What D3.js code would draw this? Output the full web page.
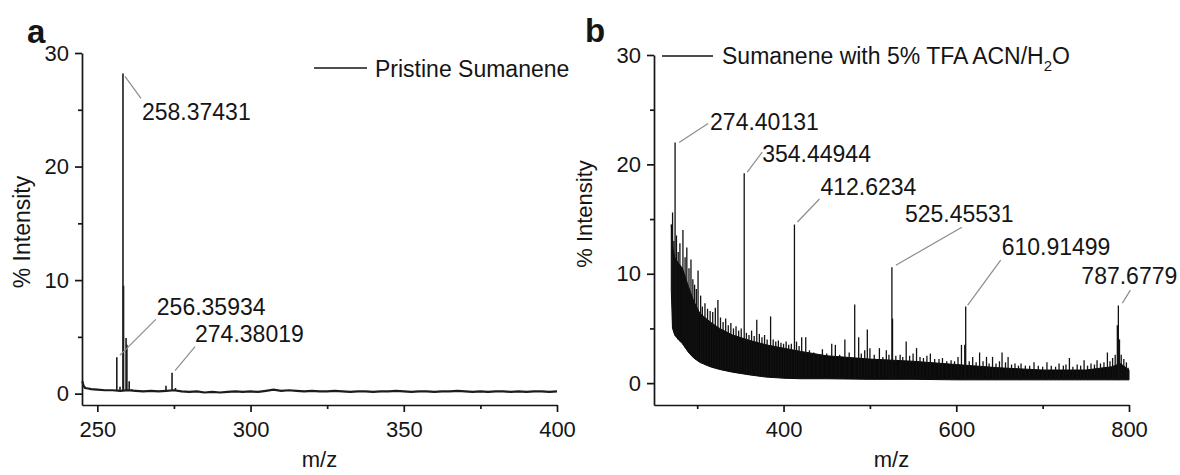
<!DOCTYPE html>
<html><head><meta charset="utf-8">
<script src="https://cdn.jsdelivr.net/npm/d3@7"></script>
<style>
body{margin:0;background:#fff;}
svg text{font-family:"Liberation Sans",Arial,Helvetica,sans-serif;fill:#151515;}
</style></head><body>
<svg id="c" width="1180" height="475"></svg>
<script>
// ---------- Panel a : Pristine Sumanene ----------
const aXTicks = [250, 300, 350, 400];
const aXMinor = [275, 325, 375];
const aYTicks = [0, 10, 20, 30];
const aYMinor = [5, 15, 25];
const aBaseMz = [245.1,245.5,246,247,248,
  250,252.5,255,257.5,260,262.5,265,267.5,270,272.5,
  275,277.5,280,282.5,285,287.5,290,292.5,295,297.5,
  300,302.5,305,307.5,310,312.5,315,317.5,320,322.5,
  325,327.5,330,332.5,335,337.5,340,342.5,345,347.5,
  350,352.5,355,357.5,360,362.5,365,367.5,370,372.5,
  375,377.5,380,382.5,385,387.5,390,392.5,395,397.5,400];
const aBaseInt = [1.1,0.7,0.5,0.45,0.4,
  0.35,0.3,0.3,0.25,0.3,0.25,0.2,0.25,0.2,0.25,
  0.3,0.2,0.15,0.2,0.1,0.15,0.1,0.15,0.2,0.15,
  0.2,0.15,0.25,0.35,0.25,0.3,0.25,0.2,0.25,0.2,
  0.2,0.25,0.2,0.15,0.2,0.2,0.15,0.2,0.2,0.25,
  0.2,0.15,0.2,0.2,0.15,0.2,0.2,0.25,0.2,0.15,
  0.2,0.15,0.2,0.2,0.15,0.2,0.15,0.2,0.2,0.15,0.2];
const aPeakMz  = [256.36, 257.4, 258.37, 258.55, 259.38, 259.65, 260.4, 261.2, 272.4, 274.38, 275.5];
const aPeakInt = [3.2,    0.6,   28.2,   9.5,    4.9,    4.3,    1.1,   0.4,   0.7,   1.85,   0.5];
const aLabels   = ["258.37431", "256.35934", "274.38019"];
const aLabelMz  = [258.37, 256.36, 274.38];
const aLabelInt = [28.2, 3.2, 1.85];
const aLegend = "Pristine Sumanene";

// ---------- Panel b : Sumanene with 5% TFA ----------
const bXTicks = [400, 600, 800];
const bXMinor = [300, 500, 700];
const bYTicks = [0, 10, 20, 30];
const bYMinor = [5, 15, 25];
const bBandMz   = [270,271.5,274,278,283,290,296,303,315,326,341,361,380,400,420,450,500,550,600,650,700,750,780,790,800];
const bBandLow  = [8.5,5.0,4.4,4.0,3.6,2.8,2.3,1.9,1.5,1.25,1.0,0.75,0.55,0.45,0.4,0.4,0.35,0.35,0.3,0.3,0.3,0.3,0.3,0.3,0.3];
const bBandHigh = [14.5,12.5,11.5,11.0,10.5,8.8,7.5,6.4,5.6,5.0,4.4,3.9,3.5,3.2,2.9,2.5,2.2,2.0,1.7,1.4,1.2,1.2,1.5,1.8,1.2];
const bSpikeMz = [
  271.5,273,274.4,276,278,280,283.5,286,288,290.5,
  292.8,295,297,299,301,304,306,309,312,315,
  318,321,324,327,330,333,336,339,342,345,
  348,351,354.45,357,360,363,366,369,372,375,
  378,381,385,388,391,394,397,400,403,406,
  409,412.62,415,418,421,425.7,430,435,440,445,
  450,455.8,460,465,471,476,482.4,487,490,494,
  497,500,505,511,515,519,522,525.46,526.2,530,
  535,538,542,546,550,554,558,562,566,570,
  575,580,584,589,594,598,602,606,609.8,610.91,
  615,619,623,627,631,635,638,642,646,650,
  653,657,660,664,668,672,675,680,685,690,
  695,700,705,710,715,719,724,727,731,735,
  740,744,748,752,756,760,763,767,771,775,
  778,781,784,786.5,787.68,789,791,794,797,799];
const bSpikeInt = [
  15.6,13.0,22.0,13.5,12.0,12.8,14.0,11.5,12.4,10.5,
  11.3,9.5,9.0,8.6,10.3,8.0,7.0,7.3,6.8,6.6,
  6.5,6.9,7.6,6.0,5.6,5.9,5.3,5.5,5.0,5.2,
  4.8,5.0,19.2,4.6,4.4,4.8,4.3,5.8,4.5,4.2,
  4.4,4.0,6.1,4.0,3.8,3.9,3.7,3.6,3.8,3.5,
  3.6,14.5,3.8,3.4,4.2,4.2,3.0,2.8,2.6,3.1,
  2.7,3.6,3.5,2.6,4.0,2.8,7.2,4.2,2.7,3.0,
  4.9,3.2,2.6,3.2,2.4,3.0,2.6,10.6,5.9,2.5,
  2.6,2.4,3.8,2.5,2.7,3.2,2.4,2.3,2.5,2.7,
  2.2,2.2,2.3,2.0,2.1,2.0,2.4,3.5,3.5,7.0,
  2.0,2.4,1.9,2.8,2.0,2.4,1.8,2.4,1.8,2.0,
  2.8,1.9,2.4,1.7,1.8,1.6,1.8,1.6,1.6,1.9,
  1.6,1.5,1.9,1.6,1.5,1.8,1.6,1.7,2.3,1.5,
  1.7,1.6,2.1,1.6,1.8,1.7,2.1,1.8,1.9,2.8,
  2.0,2.3,2.6,5.3,7.1,4.0,2.6,2.2,1.9,1.4];
const bLabels   = ["274.40131", "354.44944", "412.6234", "525.45531", "610.91499", "787.6779"];
const bLabelMz  = [274.4, 354.45, 412.62, 525.46, 610.91, 787.68];
const bLabelInt = [22.0, 19.2, 14.5, 10.6, 7.0, 7.1];

// ---------- layout ----------
const svg = d3.select("#c");
const FS_TICK = 22, FS_LAB = 23;
const ink = "#151515", leaderCol = "#8c8c8c";

const xa = d3.scaleLinear().domain([245, 400]).range([82, 557]);
const ya = d3.scaleLinear().domain([-1, 30]).range([405, 53]);
const xb = d3.scaleLinear().domain([250, 800]).range([654, 1129]);
const yb = d3.scaleLinear().domain([-2, 30]).range([405, 55]);

function drawAxes(x, y, xt, xm, yt, ym) {
  const x0 = x.range()[0], y0 = y.range()[0];
  const gx = svg.append("g").attr("transform", `translate(0,${y0})`)
    .call(d3.axisBottom(x).tickValues(xt).tickSize(7).tickPadding(9).tickSizeOuter(0).tickFormat(d3.format("d")));
  const gxm = svg.append("g").attr("transform", `translate(0,${y0})`)
    .call(d3.axisBottom(x).tickValues(xm).tickSize(4).tickFormat(""));
  const gy = svg.append("g").attr("transform", `translate(${x0},0)`)
    .call(d3.axisLeft(y).tickValues(yt).tickSize(7).tickPadding(6).tickSizeOuter(0).tickFormat(d3.format("d")));
  const gym = svg.append("g").attr("transform", `translate(${x0},0)`)
    .call(d3.axisLeft(y).tickValues(ym).tickSize(4).tickFormat(""));
  gxm.select(".domain").remove(); gym.select(".domain").remove();
  [gx, gxm, gy, gym].forEach(g => {
    g.attr("font-family", null).attr("font-size", null);
    g.selectAll("path,line").attr("stroke", ink).attr("stroke-width", 1.7);
    g.selectAll("text").style("font-size", FS_TICK + "px").attr("fill", ink);
  });
}

function lerp(xs, ys, v) {
  const i = Math.max(1, Math.min(xs.length - 1, d3.bisectLeft(xs, v)));
  const t = (v - xs[i - 1]) / (xs[i] - xs[i - 1]);
  return ys[i - 1] + Math.max(0, Math.min(1, t)) * (ys[i] - ys[i - 1]);
}

// ===== Panel a =====
drawAxes(xa, ya, aXTicks, aXMinor, aYTicks, aYMinor);
svg.append("path")
  .datum(aBaseMz.map((m, i) => [m, aBaseInt[i]]))
  .attr("fill", "none").attr("stroke", "#1c1c1c").attr("stroke-width", 2.2)
  .attr("d", d3.line().x(d => xa(d[0])).y(d => ya(d[1])));
svg.append("g").selectAll("line").data(aPeakMz).join("line")
  .attr("x1", d => xa(d)).attr("x2", d => xa(d))
  .attr("y1", d => ya(lerp(aBaseMz, aBaseInt, d)))
  .attr("y2", (d, i) => ya(aPeakInt[i]))
  .attr("stroke", "#1c1c1c").attr("stroke-width", 1.6);

// annotation layout offsets (px) relative to the peak top: leader start, leader end, text anchor
const aOff = [[2, 3, 18, 25, 19, 47], [3, -2, 39, -38, 40, -42], [3, -2, 23, -26, 23, -31]];
aLabels.forEach((lab, i) => {
  const px = xa(aLabelMz[i]), py = ya(aLabelInt[i]), o = aOff[i];
  svg.append("line").attr("x1", px + o[0]).attr("y1", py + o[1]).attr("x2", px + o[2]).attr("y2", py + o[3])
    .attr("stroke", leaderCol).attr("stroke-width", 1.2);
  svg.append("text").attr("x", px + o[4]).attr("y", py + o[5]).style("font-size", FS_LAB + "px").text(lab);
});
// legend a
svg.append("line").attr("x1", 314).attr("x2", 367).attr("y1", 68).attr("y2", 68).attr("stroke", ink).attr("stroke-width", 1.5);
svg.append("text").attr("x", 375).attr("y", 77).style("font-size", FS_LAB + "px").text(aLegend);
// axis titles a
svg.append("text").attr("x", (xa.range()[0] + xa.range()[1]) / 2).attr("y", 467).attr("text-anchor", "middle")
  .style("font-size", "22px").text("m/z");
svg.append("text").attr("transform", "translate(30,232) rotate(-90)").attr("text-anchor", "middle")
  .style("font-size", FS_LAB + "px").text("% Intensity");
svg.append("text").attr("x", 27).attr("y", 43).style("font-size", "33px").style("font-weight", "bold").text("a");

// ===== Panel b =====
drawAxes(xb, yb, bXTicks, bXMinor, bYTicks, bYMinor);
svg.append("path")
  .datum(bBandMz.map((m, i) => [m, bBandLow[i], bBandHigh[i]]))
  .attr("fill", "#0a0a0a").attr("stroke", "#0a0a0a").attr("stroke-width", 1)
  .attr("d", d3.area().x(d => xb(d[0])).y0(d => yb(d[1])).y1(d => yb(d[2])));
svg.append("g").selectAll("line").data(bSpikeMz).join("line")
  .attr("x1", d => xb(d)).attr("x2", d => xb(d))
  .attr("y1", d => yb(lerp(bBandMz, bBandLow, d)))
  .attr("y2", (d, i) => yb(bSpikeInt[i]))
  .attr("stroke", "#111").attr("stroke-width", 1.3);

const bOff = [[4, 0, 33, -19, 35, -12.5], [3, -1, 18, -21, 18, -11.6], [3, -2.5, 25, -25.5, 26, -29.5],
              [4, -2, 70, -40, 13, -45], [2, -1.5, 35, -46.5, 36, -51.5], [4, -2.4, 12, -15.4, -37, -21]];
bLabels.forEach((lab, i) => {
  const px = xb(bLabelMz[i]), py = yb(bLabelInt[i]), o = bOff[i];
  svg.append("line").attr("x1", px + o[0]).attr("y1", py + o[1]).attr("x2", px + o[2]).attr("y2", py + o[3])
    .attr("stroke", leaderCol).attr("stroke-width", 1.2);
  svg.append("text").attr("x", px + o[4]).attr("y", py + o[5]).style("font-size", FS_LAB + "px").text(lab);
});
// legend b
svg.append("line").attr("x1", 662).attr("x2", 713).attr("y1", 56).attr("y2", 56).attr("stroke", ink).attr("stroke-width", 1.5);
const lb = svg.append("text").attr("x", 722).attr("y", 64).style("font-size", FS_LAB + "px");
lb.append("tspan").text("Sumanene with 5% TFA ACN/H");
lb.append("tspan").attr("dy", 7).style("font-size", "15px").text("2");
lb.append("tspan").attr("dy", -7).text("O");
// axis titles b
svg.append("text").attr("x", (xb.range()[0] + xb.range()[1]) / 2).attr("y", 467).attr("text-anchor", "middle")
  .style("font-size", "22px").text("m/z");
svg.append("text").attr("transform", "translate(592,214) rotate(-90)").attr("text-anchor", "middle")
  .style("font-size", "22px").text("% Intensity");
svg.append("text").attr("x", 585).attr("y", 42).style("font-size", "33px").style("font-weight", "bold").text("b");
</script>
</body></html>
